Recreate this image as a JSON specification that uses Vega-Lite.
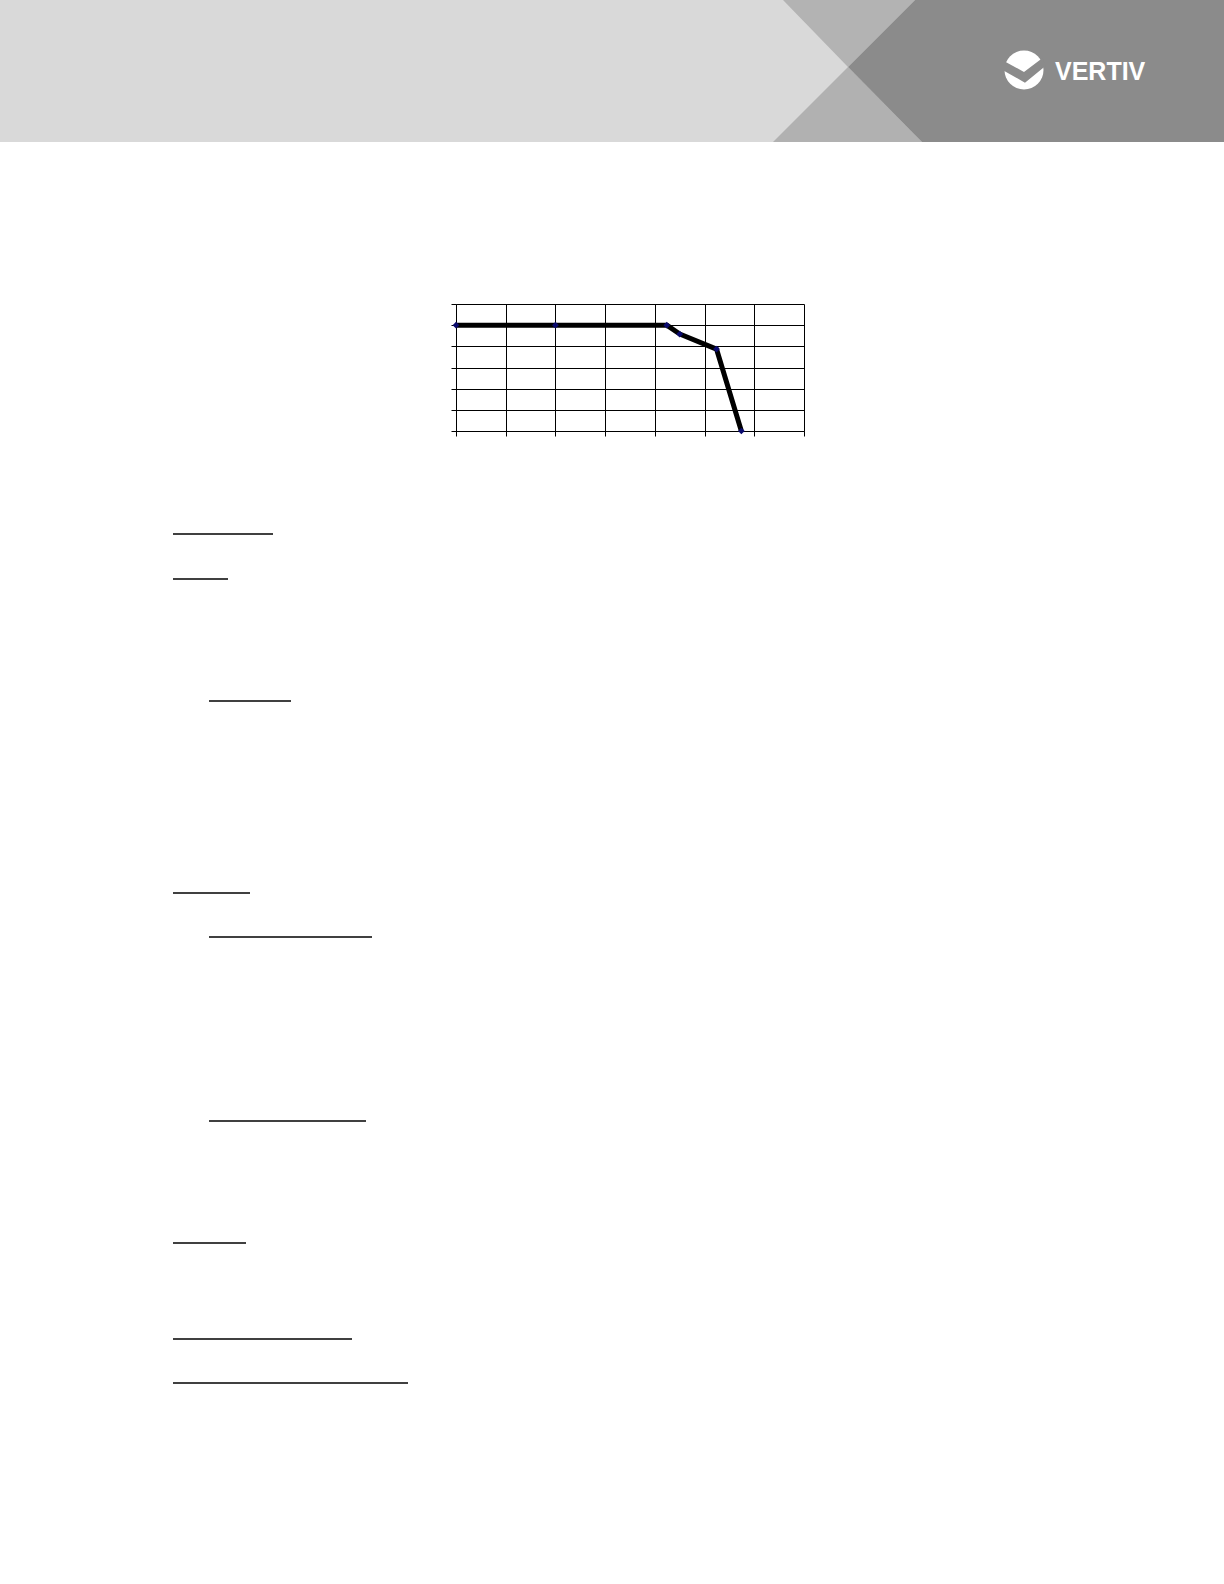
{
  "$schema": "https://vega.github.io/schema/vega-lite/v6.json",
  "background": "white",
  "padding": 0,
  "spacing": 0,
  "bounds": "flush",
  "config": {
    "view": {"stroke": null},
    "font": "Liberation Sans"
  },
  "datasets": {
    "bannerBack": [{"x0": 0, "x1": 1224, "y0": 0, "y1": 142}],
    "bannerDark": [
      {"px": 848, "top": 67, "bot": 67},
      {"px": 915, "top": 0, "bot": 135},
      {"px": 922, "top": 0, "bot": 142},
      {"px": 1224, "top": 0, "bot": 142}
    ],
    "wedgeTop": [
      {"px": 783, "top": 0, "bot": 0},
      {"px": 848, "top": 0, "bot": 67},
      {"px": 915, "top": 0, "bot": 0}
    ],
    "wedgeBottom": [
      {"px": 773, "top": 142, "bot": 142},
      {"px": 848, "top": 67, "bot": 142},
      {"px": 922, "top": 142, "bot": 142}
    ],
    "logo": [{"cx": 1024, "cy": 70}],
    "brand": [{"label": "VERTIV", "lx": 1055, "ly": 80}],
    "underlines": [
      {"x0": 173, "x1": 273, "y": 534},
      {"x0": 173, "x1": 228, "y": 579},
      {"x0": 209, "x1": 291, "y": 701},
      {"x0": 173, "x1": 250, "y": 893},
      {"x0": 209, "x1": 372, "y": 937},
      {"x0": 209, "x1": 366, "y": 1121},
      {"x0": 173, "x1": 246, "y": 1243},
      {"x0": 173, "x1": 352, "y": 1339},
      {"x0": 173, "x1": 408, "y": 1383}
    ],
    "curve": [
      {"x": 0, "y": 100},
      {"x": 20, "y": 100},
      {"x": 42.4, "y": 100},
      {"x": 45, "y": 91.6},
      {"x": 52.4, "y": 77.4},
      {"x": 57.4, "y": 0}
    ]
  },
  "vconcat": [
    {
      "width": 1224,
      "height": 304,
      "layer": [
        {
          "data": {"name": "bannerBack"},
          "mark": {"type": "rect", "color": "#d9d9d9"},
          "encoding": {
            "x": {"field": "x0", "type": "quantitative", "scale": {"domain": [0, 1224], "nice": false, "zero": false}, "axis": null},
            "x2": {"field": "x1"},
            "y": {"field": "y0", "type": "quantitative", "scale": {"domain": [0, 304], "nice": false, "zero": false, "reverse": true}, "axis": null},
            "y2": {"field": "y1"}
          }
        },
        {
          "data": {"name": "wedgeTop"},
          "mark": {"type": "area", "color": "#b3b3b3"},
          "encoding": {
            "x": {"field": "px", "type": "quantitative", "axis": null},
            "y": {"field": "top", "type": "quantitative", "axis": null},
            "y2": {"field": "bot"}
          }
        },
        {
          "data": {"name": "wedgeBottom"},
          "mark": {"type": "area", "color": "#b1b1b1"},
          "encoding": {
            "x": {"field": "px", "type": "quantitative", "axis": null},
            "y": {"field": "top", "type": "quantitative", "axis": null},
            "y2": {"field": "bot"}
          }
        },
        {
          "data": {"name": "bannerDark"},
          "mark": {"type": "area", "color": "#8b8b8b"},
          "encoding": {
            "x": {"field": "px", "type": "quantitative", "axis": null},
            "y": {"field": "top", "type": "quantitative", "axis": null},
            "y2": {"field": "bot"}
          }
        },
        {
          "data": {"name": "logo"},
          "mark": {"type": "point", "shape": "circle", "filled": true, "color": "white", "opacity": 1, "size": 1521},
          "encoding": {
            "x": {"field": "cx", "type": "quantitative", "axis": null},
            "y": {"field": "cy", "type": "quantitative", "axis": null}
          }
        },
        {
          "data": {"name": "logo"},
          "mark": {"type": "point", "shape": "M -1.1 -0.5 L 0 0.1 L 0.95 -0.62 L 1.1 -0.2 L 0.05 0.65 L -1.1 0 Z", "filled": true, "color": "#8b8b8b", "opacity": 1, "size": 1521},
          "encoding": {
            "x": {"field": "cx", "type": "quantitative", "axis": null},
            "y": {"field": "cy", "type": "quantitative", "axis": null}
          }
        },
        {
          "data": {"name": "brand"},
          "mark": {"type": "text", "color": "white", "font": "Liberation Sans", "fontWeight": "bold", "fontSize": 25, "align": "left", "baseline": "alphabetic"},
          "encoding": {
            "x": {"field": "lx", "type": "quantitative", "axis": null},
            "y": {"field": "ly", "type": "quantitative", "axis": null},
            "text": {"field": "label"}
          }
        }
      ]
    },
    {
      "hconcat": [
        {
          "width": 456,
          "height": 127,
          "data": {"values": []},
          "mark": "point",
          "encoding": {}
        },
        {
          "width": 348,
          "height": 127,
          "data": {"name": "curve"},
          "encoding": {
            "x": {
              "field": "x",
              "type": "quantitative",
              "scale": {"domain": [0, 70], "nice": false, "zero": false},
              "axis": {
                "values": [0, 10, 20, 30, 40, 50, 60, 70],
                "labels": false,
                "title": null,
                "tickSize": 5,
                "tickColor": "black",
                "domainColor": "black",
                "grid": true,
                "gridColor": "black",
                "gridOpacity": 1,
                "gridWidth": 1
              }
            },
            "y": {
              "field": "y",
              "type": "quantitative",
              "scale": {"domain": [0, 120], "nice": false, "zero": false},
              "axis": {
                "values": [0, 20, 40, 60, 80, 100, 120],
                "labels": false,
                "title": null,
                "tickSize": 5,
                "tickColor": "black",
                "domainColor": "black",
                "grid": true,
                "gridColor": "black",
                "gridOpacity": 1,
                "gridWidth": 1
              }
            }
          },
          "layer": [
            {"mark": {"type": "line", "color": "black", "strokeWidth": 5, "strokeJoin": "round"}},
            {"mark": {"type": "point", "shape": "diamond", "filled": true, "color": "#0a0a6e", "opacity": 1, "size": 45}}
          ]
        }
      ],
      "spacing": 0,
      "bounds": "flush"
    },
    {
      "width": 1224,
      "height": 1280,
      "data": {"name": "underlines"},
      "mark": {"type": "rule", "color": "black", "strokeWidth": 1.3},
      "encoding": {
        "x": {"field": "x0", "type": "quantitative", "scale": {"domain": [0, 1224], "nice": false, "zero": false}, "axis": null},
        "x2": {"field": "x1"},
        "y": {"field": "y", "type": "quantitative", "scale": {"domain": [304, 1584], "nice": false, "zero": false, "reverse": true}, "axis": null}
      }
    }
  ]
}
